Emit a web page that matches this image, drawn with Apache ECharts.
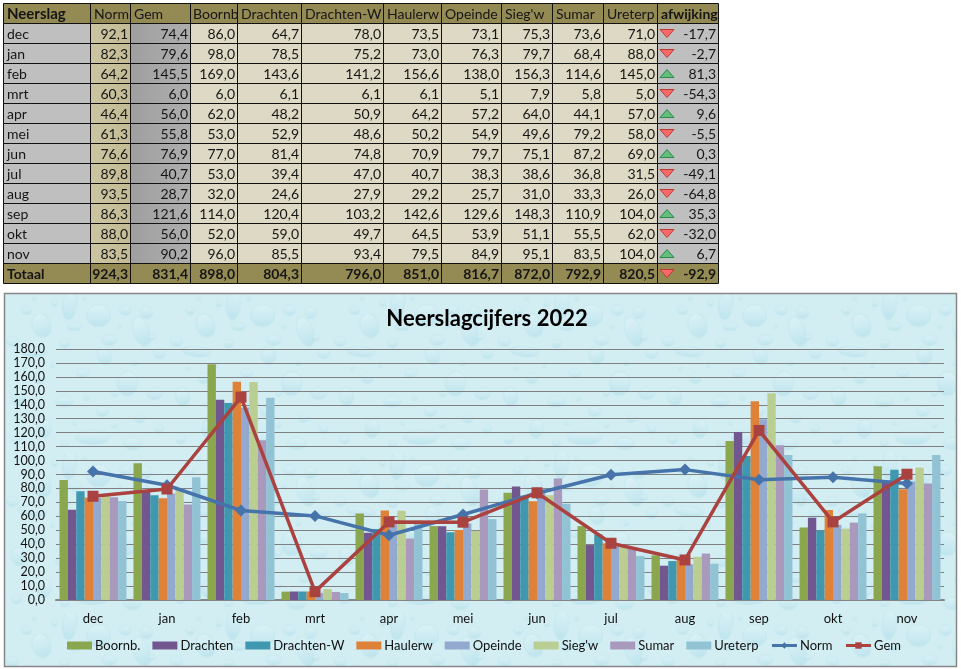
<!DOCTYPE html>
<html>
<head>
<meta charset="utf-8">
<title>Neerslagcijfers 2022</title>
<script src="https://cdn.jsdelivr.net/npm/echarts@6/dist/echarts.min.js"></script>
<style>
  html, body { margin: 0; padding: 0; background: #fff; }
  #chart { width: 961px; height: 669px; }
</style>
</head>
<body>
<div id="chart"></div>
<script>
const months = ['dec', 'jan', 'feb', 'mrt', 'apr', 'mei', 'jun', 'jul', 'aug', 'sep', 'okt', 'nov']

const norm = [92.1, 82.3, 64.2, 60.3, 46.4, 61.3, 76.6, 89.8, 93.5, 86.3, 88.0, 83.5]
const gem = [74.4, 79.6, 145.5, 6.0, 56.0, 55.8, 76.9, 40.7, 28.7, 121.6, 56.0, 90.2]
const boornb = [86.0, 98.0, 169.0, 6.0, 62.0, 53.0, 77.0, 53.0, 32.0, 114.0, 52.0, 96.0]
const drachten = [64.7, 78.5, 143.6, 6.1, 48.2, 52.9, 81.4, 39.4, 24.6, 120.4, 59.0, 85.5]
const drachtenW = [78.0, 75.2, 141.2, 6.1, 50.9, 48.6, 74.8, 47.0, 27.9, 103.2, 49.7, 93.4]
const haulerw = [73.5, 73.0, 156.6, 6.1, 64.2, 50.2, 70.9, 40.7, 29.2, 142.6, 64.5, 79.5]
const opeinde = [73.1, 76.3, 138.0, 5.1, 57.2, 54.9, 79.7, 38.3, 25.7, 129.6, 53.9, 84.9]
const siegw = [75.3, 79.7, 156.3, 7.9, 64.0, 49.6, 75.1, 38.6, 31.0, 148.3, 51.1, 95.1]
const sumar = [73.6, 68.4, 114.6, 5.8, 44.1, 79.2, 87.2, 36.8, 33.3, 110.9, 55.5, 83.5]
const ureterp = [71.0, 88.0, 145.0, 5.0, 57.0, 58.0, 69.0, 31.5, 26.0, 104.0, 62.0, 104.0]
const afwijking = [-17.7, -2.7, 81.3, -54.3, 9.6, -5.5, 0.3, -49.1, -64.8, 35.3, -32.0, 6.7]
const totals = [924.3, 831.4, 898.0, 804.3, 796.0, 851.0, 816.7, 872.0, 792.9, 820.5, -92.9]

const tableHeaders = ['Neerslag', 'Norm', 'Gem', 'Boornb', 'Drachten', 'Drachten-W', 'Haulerw', 'Opeinde', "Sieg'w", 'Sumar', 'Ureterp', 'afwijking']
const tableColumns = [norm, gem, boornb, drachten, drachtenW, haulerw, opeinde, siegw, sumar, ureterp, afwijking]

const barNames = ['Boornb.', 'Drachten', 'Drachten-W', 'Haulerw', 'Opeinde', "Sieg'w", 'Sumar', 'Ureterp']
const barValues = [boornb, drachten, drachtenW, haulerw, opeinde, siegw, sumar, ureterp]
const barColors = ['#8AA64E', '#72568F', '#4098B0', '#DE823A', '#93A9D0', '#BACE94', '#A899BD', '#92C3D5']

// table layout, in page pixels
const colEdges = [3, 90, 130, 190, 237, 301, 383, 441, 501, 552, 603, 657, 718]
const rowCount = months.length + 2

// drops of the background tile: x, y, rx, ry, rotation
const tileDrops = [
  [65, 11, 7, 15, 0.1], [94, 22, 12, 11, 0], [137, 38, 8, 15, -0.35], [37, 32, 9, 12, -0.3],
  [22, 17, 5, 4, 0], [121, 17, 6, 5, 0], [142, 19, 6, 6, 0], [105, 47, 7, 5, 0],
  [70, 33, 7, 4, 0], [8, 48, 6, 5, 0], [60, 50, 5, 4, 0], [155, 60, 6, 5, 0],
  [28, 58, 14, 5, 0.1], [100, 62, 7, 9, -0.2], [147, 44, 4, 3, 0], [50, 10, 3, 3, 0],
  [123, 90, 10, 12, 0.1], [35, 85, 6, 5, 0], [78, 80, 6, 4, 0], [14, 103, 7, 9, -0.2],
  [60, 108, 9, 5, 0], [98, 118, 6, 5, 0], [150, 100, 8, 6, 0], [135, 125, 5, 4, 0],
  [88, 144, 17, 7, 0], [40, 135, 7, 9, 0.2], [12, 146, 5, 4, 0], [128, 150, 9, 6, 0],
  [155, 136, 4, 4, 0], [60, 150, 4, 3, 0], [110, 100, 3, 3, 0], [82, 105, 3, 2, 0],
  [30, 5, 2, 2, 0], [80, 5, 2, 2, 0], [115, 33, 2, 2, 0], [48, 72, 2, 2, 0],
  [130, 70, 3, 2, 0], [20, 75, 2, 2, 0], [70, 130, 2, 2, 0], [110, 132, 3, 2, 0]
]

function makeWaterTile() {
  const tile = document.createElement('canvas')
  tile.width = 164
  tile.height = 160
  const ctx = tile.getContext('2d')
  ctx.fillStyle = '#D2EEF3'
  ctx.fillRect(0, 0, 164, 160)
  tileDrops.forEach(d => {
    ctx.save()
    ctx.translate(d[0], d[1])
    ctx.rotate(d[4])
    const g = ctx.createLinearGradient(0, -d[3], 0, d[3])
    g.addColorStop(0, 'rgba(226,246,250,0.55)')
    g.addColorStop(1, 'rgba(178,222,234,0.6)')
    ctx.fillStyle = g
    ctx.strokeStyle = 'rgba(190,228,237,0.6)'
    ctx.beginPath()
    ctx.ellipse(0, 0, d[2], d[3], 0, 0, Math.PI * 2)
    ctx.fill()
    ctx.stroke()
    ctx.restore()
  })
  return tile
}

const decimal = v => v.toFixed(1).replace('.', ',')

// cell text for a table position
function cellText(col, row) {
  if (row === 0) return tableHeaders[col]
  if (col === 0) return row <= months.length ? months[row - 1] : 'Totaal'
  if (row === rowCount - 1) return decimal(totals[col - 1])
  return decimal(tableColumns[col - 1][row - 1])
}

function cellFill(col, row) {
  if (row === 0 || row === rowCount - 1) return '#948A54'
  if (col === 0 || col === 11) return '#BFBFBF'
  if (col === 1) return new echarts.graphic.LinearGradient(0, 0, 1, 0, [
    { offset: 0, color: '#CBC5A3' }, { offset: 1, color: '#C2BB94' }
  ])
  if (col === 2) return new echarts.graphic.LinearGradient(0, 0, 1, 0, [
    { offset: 0, color: '#9F9F9F' }, { offset: 1, color: '#AEAEAE' }
  ])
  return '#DDD9C4'
}

function renderCell(params, api) {
  const col = api.value(0)
  const row = api.value(1)
  const left = api.coord([colEdges[col], row])[0]
  const right = api.coord([colEdges[col + 1], row])[0]
  const h = api.size([0, 1])[1]
  const cy = api.coord([colEdges[col], row])[1]
  const top = Math.round(cy - h / 2) + 0.5
  const text = cellText(col, row)
  const isHeader = row === 0
  const bold = row === rowCount - 1 || (isHeader && (col === 0 || col === 11))
  const leftAlign = isHeader || col === 0

  const children = [{
    type: 'rect',
    shape: { x: left + 0.5, y: top, width: right - left, height: h },
    style: { fill: cellFill(col, row), stroke: '#111', lineWidth: 1 }
  }, {
    type: 'text',
    style: {
      x: leftAlign ? left + (isHeader && col === 3 ? 3 : 4) : right - 2,
      y: top + h / 2 + 0.5,
      text: text,
      fill: '#151515',
      font: (bold ? 'bold ' : '') + (isHeader && col === 0 ? '15px' : '14px') + ' Lato, sans-serif',
      align: leftAlign ? 'left' : 'right',
      verticalAlign: 'middle'
    }
  }]

  // trend icons in the afwijking column
  if (col === 11 && row > 0) {
    const value = row === rowCount - 1 ? totals[10] : afwijking[row - 1]
    const x0 = left + 3
    const x1 = left + 17
    const up = value >= 0
    const yMid = top + h / 2
    const points = up
      ? [[x0, yMid + 4], [x1, yMid + 4], [(x0 + x1) / 2, yMid - 4]]
      : [[x0, yMid - 4], [x1, yMid - 4], [(x0 + x1) / 2, yMid + 4]]
    children.push({
      type: 'polygon',
      shape: { points: points },
      style: { fill: up ? '#63BE7B' : '#F8696B', stroke: up ? '#2E8B48' : '#C0392F', lineWidth: 1 }
    })
  }
  return { type: 'group', children: children }
}

const cellData = []
for (let row = 0; row < rowCount; row++) {
  for (let col = 0; col < tableHeaders.length; col++) cellData.push([col, row])
}

const chart = echarts.init(document.getElementById('chart'))

const axisFont = { fontFamily: 'Lato, sans-serif', fontSize: 13, color: '#111' }

const option = {
  animation: false,
  backgroundColor: '#fff',
  graphic: [{
    type: 'rect',
    z: -10,
    x: 4.5,
    y: 293.5,
    shape: { x: 0, y: 0, width: 952, height: 373 },
    style: { fill: { image: makeWaterTile(), repeat: 'repeat' }, stroke: '#868686', lineWidth: 1.5 },
    silent: true
  }],
  title: {
    text: 'Neerslagcijfers 2022',
    left: 482,
    top: 303,
    textAlign: 'center',
    textStyle: { fontFamily: 'Lato, sans-serif', fontSize: 22, fontWeight: 'bold', color: '#000' }
  },
  legend: {
    left: 67,
    top: 639,
    padding: 0,
    itemWidth: 25,
    itemHeight: 8,
    itemGap: 12,
    lineStyle: { width: 3 },
    data: barNames.map(name => ({ name: name, icon: 'rect' })).concat([{ name: 'Norm' }, { name: 'Gem' }]),
    textStyle: { fontFamily: 'Lato, sans-serif', fontSize: 13, color: '#111', padding: [0, 0, 0, -2] }
  },
  grid: [
    { left: 0, top: 3, width: 720, height: 280 },
    { left: 56, top: 349, width: 888, height: 251 }
  ],
  xAxis: [
    { gridIndex: 0, type: 'value', min: 0, max: 720, show: false },
    {
      gridIndex: 1,
      type: 'category',
      data: months,
      axisTick: { show: false },
      axisLine: { lineStyle: { color: '#868686', width: 2 } },
      axisLabel: Object.assign({ margin: 12 }, axisFont)
    }
  ],
  yAxis: [
    {
      gridIndex: 0,
      type: 'category',
      inverse: true,
      show: false,
      data: tableHeaders.slice(0, 1).concat(months, ['Totaal'])
    },
    {
      gridIndex: 1,
      type: 'value',
      min: 0,
      max: 180,
      interval: 10,
      axisLine: { show: false },
      axisTick: { show: false },
      splitLine: { lineStyle: { color: '#808080', width: 1 } },
      axisLabel: Object.assign({}, axisFont, { margin: 11, fontSize: 12.5, formatter: decimal })
    }
  ],
  series: [
    {
      type: 'custom',
      xAxisIndex: 0,
      yAxisIndex: 0,
      renderItem: renderCell,
      data: cellData,
      encode: { x: 0, y: 1 },
      silent: true
    }
  ].concat(barNames.map((name, i) => ({
    name: name,
    type: 'bar',
    xAxisIndex: 1,
    yAxisIndex: 1,
    barGap: 0,
    barCategoryGap: '9.5%',
    data: barValues[i],
    itemStyle: { color: barColors[i] }
  })), [
    {
      name: 'Norm',
      type: 'line',
      xAxisIndex: 1,
      yAxisIndex: 1,
      z: 5,
      data: norm,
      symbol: 'diamond',
      symbolSize: 12,
      showAllSymbol: true,
      lineStyle: { color: '#4674AA', width: 3.5 },
      itemStyle: { color: '#4674AA' }
    },
    {
      name: 'Gem',
      type: 'line',
      xAxisIndex: 1,
      yAxisIndex: 1,
      z: 6,
      data: gem,
      symbol: 'rect',
      symbolSize: 11,
      showAllSymbol: true,
      lineStyle: { color: '#AA4240', width: 3.5 },
      itemStyle: { color: '#AA4240' }
    }
  ])
}

chart.setOption(option)
</script>
</body>
</html>
